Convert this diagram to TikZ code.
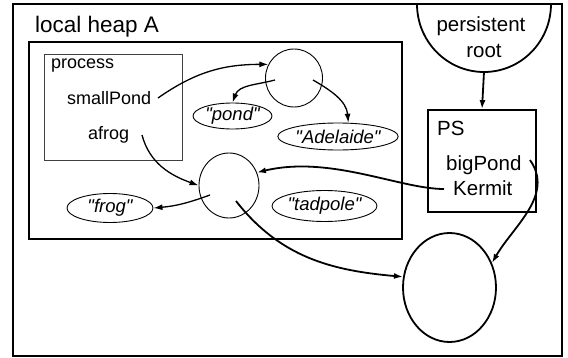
\documentclass[tikz,border=0pt]{standalone}
\usepackage{fontspec}
\setmainfont{Liberation Sans}
\usetikzlibrary{arrows.meta,shapes.geometric}

\tikzset{
  frame/.style={draw, line width=1.8pt},
  obj/.style={draw, line width=0.9pt, inner sep=0pt},
  strobj/.style={draw, ellipse, line width=0.9pt, inner sep=0pt,
    font=\fontsize{18.5}{20}\selectfont\itshape},
  lbl/.style={anchor=base west, inner sep=0pt},
  ref/.style={line width=1.3pt, -{Latex[length=9pt,width=6pt]}},
  bigref/.style={line width=1.8pt, -{Latex[length=9pt,width=6pt]}},
}
\newcommand{\dq}{\textquotedbl}

\begin{document}
\begin{tikzpicture}[x=1pt,y=1pt]
\useasboundingbox (0,0) rectangle (568,357);

% outer area and the local heap box
\draw[frame] (13,1) rectangle (562,353);
\node[lbl, font=\fontsize{22.5}{26}\selectfont] (heaplbl) at (35,324) {local heap A};
\draw[line width=1.7pt] (29,118) rectangle (402,315);

% process frame
\draw[line width=0.9pt, black!75] (44,197) rectangle (182,303);
\node[lbl, font=\fontsize{18}{20}\selectfont] (proc) at (51,288) {process};
\node[lbl, font=\fontsize{18}{20}\selectfont] (sp) at (67,252) {smallPond};
\node[lbl, font=\fontsize{18}{20}\selectfont] (af) at (88,218) {afrog};

% heap objects
\node[obj, ellipse, minimum width=57pt, minimum height=58pt] (c1) at (294,279) {};
\node[obj, ellipse, minimum width=60pt, minimum height=65pt] (c2) at (229,171.5) {};
\node[strobj, minimum width=79pt, minimum height=26pt] (pond) at (232.5,241) {\dq pond\dq};
\node[strobj, minimum width=116pt, minimum height=27pt] (ad) at (338,220.5) {\dq Adelaide\dq};
\node[strobj, minimum width=105pt, minimum height=31pt] (tad) at (324.5,151) {\dq tadpole\dq};
\node[strobj, minimum width=86pt, minimum height=29pt] (frog) at (110,149) {\dq frog\dq};

% persistent root
\draw[line width=1.8pt] (417,353) arc[start angle=180, end angle=360, x radius=67, y radius=68];
\coordinate (rootb) at (484,285);
\node[anchor=base, inner sep=0pt, font=\fontsize{20.5}{22}\selectfont] (pers) at (481,325) {persistent};
\node[anchor=base, inner sep=0pt, font=\fontsize{20.5}{22}\selectfont] (rootlbl) at (484,299) {root};

% persistent store box
\node[draw, line width=1.8pt, minimum width=108pt, minimum height=102pt, inner sep=0pt] (ps) at (482,196) {};
\node[lbl, font=\fontsize{20.5}{22}\selectfont] (pslbl) at (437,222) {PS};
\node[lbl, font=\fontsize{20.5}{22}\selectfont] (bp) at (446,187) {bigPond};
\node[lbl, font=\fontsize{20.5}{22}\selectfont] (ke) at (453,162) {Kermit};

% persistent object
\node[draw, ellipse, line width=1.8pt, minimum width=93pt, minimum height=109pt, inner sep=0pt] (bc) at (449.5,69.5) {};

% reference start points
\coordinate (spend) at (158,259);
\coordinate (afend) at (142,222);
\coordinate (c1a) at (275,277);
\coordinate (c1b) at (313,277);
\coordinate (c2a) at (210,162);
\coordinate (c2b) at (236,156);
\coordinate (keend) at (444,168);
\coordinate (bpend) at (530,197);

% references
\draw[ref] (spend) to[out=35, in=180] (c1.152);
\draw[ref] (c1a) to[out=195, in=70] (pond.north);
\draw[ref] (c1b) to[out=-30, in=95] (ad.53);
\draw[ref] (afend) to[out=-75, in=160] (c2.west);
\draw[ref] (c2a) to[out=200, in=5] (frog.east);
\draw[bigref] (keend) .. controls (400,168) and (330,202) .. (c2.25);
\draw[bigref] (c2b) to[out=-52, in=175] (bc.167);
\draw[bigref] (bpend) to[out=-55, in=60] (bc.30);
\draw[bigref] (rootb) -- (ps.north);
\end{tikzpicture}
\end{document}
